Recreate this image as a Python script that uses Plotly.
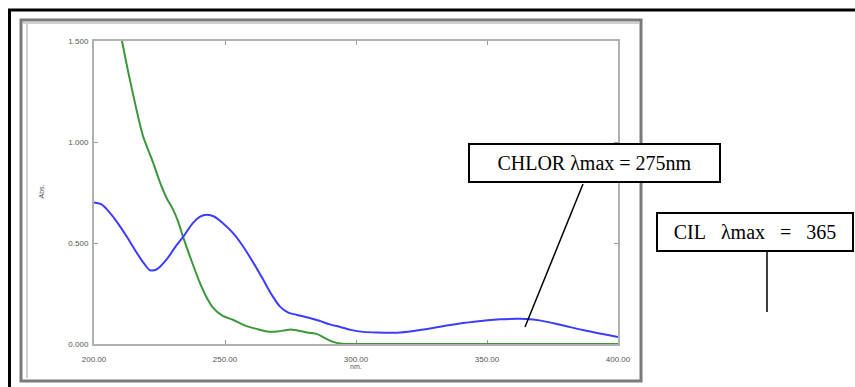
import plotly.graph_objects as go

# ---------------- data ----------------
cil_nm = [200, 203, 206, 209, 212.6, 216.4, 219, 221.4, 224, 227.8, 231, 234, 237.8, 240.5,
          243, 246, 249, 253, 256, 260, 264.5, 268, 271, 274, 277.5, 282, 286, 290, 294, 298,
          302.7, 308, 317, 325, 336, 345, 355, 361.5, 365, 370, 378, 386.6, 393, 400]
cil_abs = [0.70, 0.69, 0.65, 0.60, 0.53, 0.45, 0.40, 0.365, 0.37, 0.42, 0.48, 0.53, 0.60, 0.63,
           0.64, 0.63, 0.60, 0.55, 0.50, 0.42, 0.32, 0.24, 0.185, 0.157, 0.144, 0.13, 0.115, 0.097,
           0.084, 0.07, 0.06, 0.057, 0.057, 0.07, 0.094, 0.11, 0.122, 0.125, 0.124, 0.117, 0.095,
           0.069, 0.052, 0.035]

chlor_nm = [205, 208, 210.7, 213, 216.4, 218.7, 222.5, 225.2, 227.8, 230, 232, 234, 237, 240.5,
            243, 245.4, 249, 253, 258, 262, 266, 270, 273, 275, 278, 282, 285, 288, 291, 294,
            296, 300, 350, 400]
chlor_abs = [1.92, 1.68, 1.50, 1.35, 1.15, 1.03, 0.90, 0.80, 0.72, 0.67, 0.61, 0.53, 0.42, 0.30,
             0.23, 0.18, 0.14, 0.12, 0.09, 0.075, 0.062, 0.062, 0.068, 0.072, 0.066, 0.056, 0.05,
             0.03, 0.012, 0.002, 0, 0, 0, 0]

x_ticks = [200, 250, 300, 350, 400]
x_tick_text = ["200.00", "250.00", "300.00", "350.00", "400.00"]
y_ticks = [0, 0.5, 1.0, 1.5]
y_tick_text = ["0.000", "0.500", "1.000", "1.500"]

SP = "&nbsp;"
chlor_label = "CHLOR λmax = 275nm"
cil_label = "CIL" + SP * 3 + "λmax" + SP * 3 + "=" + SP * 3 + "365"

# ---------------- layout helpers ----------------
W, H = 855, 387
L, R, T, B = 94, 618, 41, 344


def px(xp):
    return (xp - L) / (R - L)


def py(yp):
    return (B - yp) / (B - T)


fig = go.Figure()
fig.add_trace(go.Scatter(x=chlor_nm, y=chlor_abs, mode="lines",
                         line=dict(color="#3c963c", width=2, shape="spline", smoothing=0.8),
                         showlegend=False))
fig.add_trace(go.Scatter(x=cil_nm, y=cil_abs, mode="lines",
                         line=dict(color="#3c3cff", width=2, shape="spline", smoothing=0.8),
                         showlegend=False))

axis_common = dict(showgrid=False, zeroline=False, showline=True, linecolor="#b0b0b0",
                   linewidth=2, ticks="inside", ticklen=4, tickcolor="#999",
                   mirror="allticks", layer="below traces",
                   tickfont=dict(family="Liberation Sans, Arial", size=8, color="#555"))

fig.update_xaxes(range=[200, 400], tickvals=x_ticks, ticktext=x_tick_text,
                 ticklabelstandoff=6, **axis_common)
fig.update_yaxes(range=[0, 1.5], tickvals=y_ticks, ticktext=y_tick_text,
                 ticklabelstandoff=2, **axis_common)

shapes = []
# outer black frame lines (top and left)
shapes.append(dict(type="line", xref="paper", yref="paper", x0=px(8), x1=px(856), y0=py(10), y1=py(10),
                   line=dict(color="black", width=3)))
shapes.append(dict(type="line", xref="paper", yref="paper", x0=px(9.5), x1=px(9.5), y0=py(10), y1=py(390),
                   line=dict(color="black", width=3)))
# gray panel frame
shapes.append(dict(type="rect", xref="paper", yref="paper", x0=px(21), x1=px(641), y0=py(20), y1=py(381),
                   line=dict(color="#7a7a7a", width=3)))
shapes.append(dict(type="line", xref="paper", yref="paper", x0=px(27), x1=px(27), y0=py(23), y1=py(378),
                   line=dict(color="#d0d0d0", width=2)))
shapes.append(dict(type="line", xref="paper", yref="paper", x0=px(23), x1=px(639), y0=py(23), y1=py(23),
                   line=dict(color="#d0d0d0", width=2)))
# leader lines
shapes.append(dict(type="line", xref="paper", yref="paper", x0=px(583), x1=px(525), y0=py(184), y1=py(327),
                   line=dict(color="black", width=1.5)))
shapes.append(dict(type="line", xref="paper", yref="paper", x0=px(767), x1=px(767), y0=py(252), y1=py(312),
                   line=dict(color="black", width=1.5)))
fig.update_layout(shapes=shapes)

annotations = [
    dict(text=chlor_label, xref="paper", yref="paper", x=px(594.5), y=py(163), showarrow=False,
         xanchor="center", yanchor="middle", width=247, height=34, bgcolor="white",
         bordercolor="black", borderwidth=2, borderpad=1,
         font=dict(family="Liberation Serif, Times New Roman", size=20, color="black")),
    dict(text=cil_label, xref="paper", yref="paper", x=px(755), y=py(232), showarrow=False,
         xanchor="center", yanchor="middle", width=192, height=34, bgcolor="white",
         bordercolor="black", borderwidth=2, borderpad=1,
         font=dict(family="Liberation Serif, Times New Roman", size=20, color="black")),
    dict(text="Abs.", xref="paper", yref="paper", x=px(35), y=py(192), showarrow=False, textangle=-90,
         font=dict(family="Liberation Sans, Arial", size=7, color="#555")),
    dict(text="nm.", xref="paper", yref="paper", x=px(356), y=py(372), showarrow=False,
         font=dict(family="Liberation Sans, Arial", size=7, color="#555")),
]
fig.update_layout(annotations=annotations)

fig.update_layout(width=W, height=H, margin=dict(l=L, r=W - R, t=T, b=H - B),
                  paper_bgcolor="white", plot_bgcolor="white")

fig.write_html("out.html")
